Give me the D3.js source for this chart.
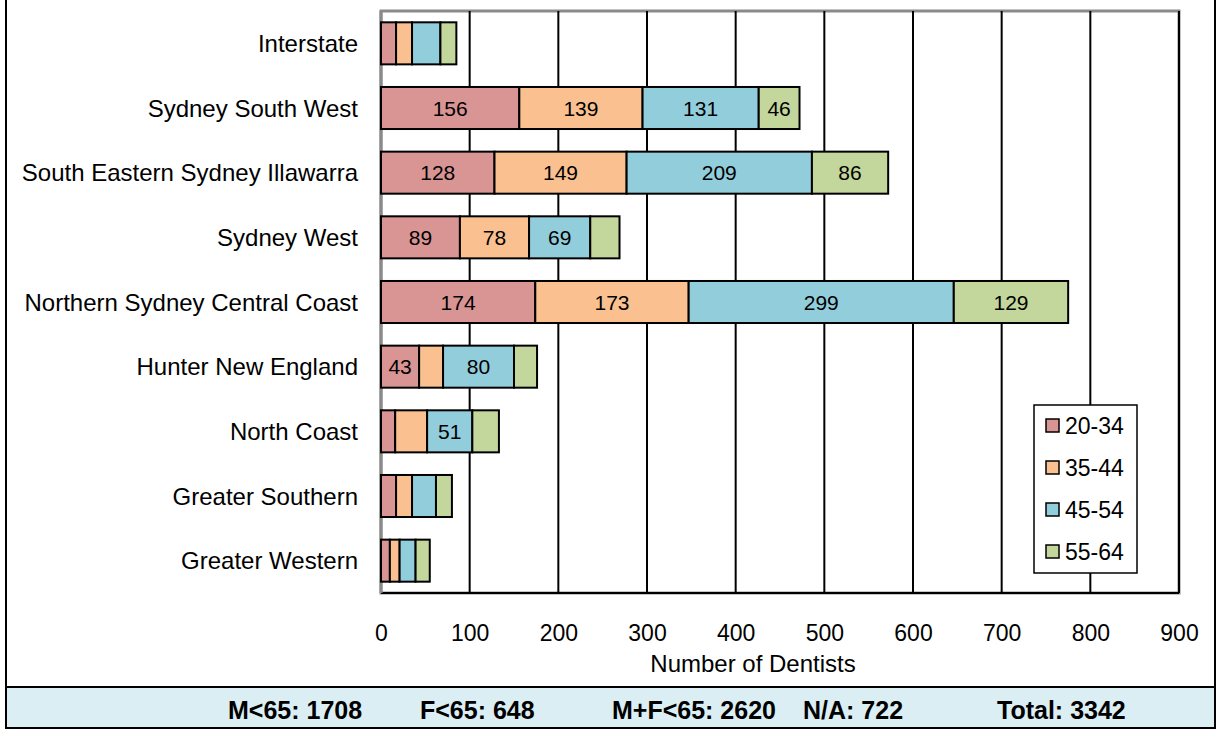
<!DOCTYPE html>
<html lang="en">
<head>
<meta charset="utf-8">
<script src="https://d3js.org/d3.v7.min.js"></script>
<style>
  body { margin: 0; background: #fff; }
  svg text { font-family: "Liberation Sans", Arial, sans-serif; fill: #000; }
</style>
</head>
<body>
<script>
// data
const categories = ["Interstate", "Sydney South West", "South Eastern Sydney Illawarra", "Sydney West",
  "Northern Sydney Central Coast", "Hunter New England", "North Coast", "Greater Southern", "Greater Western"];
const ageGroups = ["20-34", "35-44", "45-54", "55-64"];
const age20_34 = [17, 156, 128, 89, 174, 43, 16, 17, 10];
const age35_44 = [18, 139, 149, 78, 173, 27, 36, 18, 11];
const age45_54 = [32, 131, 209, 69, 299, 80, 51, 27, 18];
const age55_64 = [18, 46, 86, 33, 129, 26, 30, 18, 16];
const xTicks = [0, 100, 200, 300, 400, 500, 600, 700, 800, 900];
const footerLabels = ["M<65: 1708", "F<65: 648", "M+F<65: 2620", "N/A: 722", "Total: 3342"];

// layout
const W = 1217, H = 729;
const plot = { left: 381, right: 1179, top: 11, bottom: 593 };
const footerX = [228, 420, 612, 803, 997];
const colours = ["#d99594", "#fac08f", "#92cddc", "#c3d69b"];
const labelMin = 40;

const series = [age20_34, age35_44, age45_54, age55_64];
const rows = categories.map((c, i) => {
  const r = { cat: c };
  ageGroups.forEach((g, j) => r[g] = series[j][i]);
  return r;
});
const stacked = d3.stack().keys(ageGroups)(rows);

const svg = d3.select("body").append("svg")
  .attr("width", W).attr("height", H);

svg.append("rect").attr("width", W).attr("height", H).attr("fill", "#fff");

// outer frame
svg.append("line").attr("x1", 6).attr("x2", 6).attr("y1", 0).attr("y2", 728)
  .attr("stroke", "#000").attr("stroke-width", 2);
svg.append("line").attr("x1", 1215).attr("x2", 1215).attr("y1", 0).attr("y2", 728)
  .attr("stroke", "#000").attr("stroke-width", 2);

const x = d3.scaleLinear().domain([0, 900]).range([plot.left, plot.right]);
const y = d3.scaleBand().domain(categories).range([plot.top, plot.bottom])
  .paddingInner(0.35).paddingOuter(0.175);

// plot frame and grid
svg.append("rect")
  .attr("x", plot.left).attr("y", plot.top)
  .attr("width", plot.right - plot.left).attr("height", plot.bottom - plot.top)
  .attr("fill", "#fff").attr("stroke", "#8a8a8a").attr("stroke-width", 3);

svg.append("g").selectAll("line")
  .data(xTicks.filter(d => d > 0))
  .enter().append("line")
  .attr("x1", d => x(d)).attr("x2", d => x(d))
  .attr("y1", plot.top).attr("y2", plot.bottom)
  .attr("stroke", "#000").attr("stroke-width", 2);

svg.append("line")
  .attr("x1", plot.left).attr("x2", plot.right)
  .attr("y1", plot.bottom).attr("y2", plot.bottom)
  .attr("stroke", "#000").attr("stroke-width", 2);
svg.append("line")
  .attr("x1", plot.left).attr("x2", plot.left)
  .attr("y1", plot.top).attr("y2", plot.bottom)
  .attr("stroke", "#8a8a8a").attr("stroke-width", 3);

// bars
const layers = svg.append("g").selectAll("g")
  .data(stacked)
  .enter().append("g")
  .attr("fill", (d, i) => colours[i]);

layers.selectAll("rect")
  .data(d => d)
  .enter().append("rect")
  .attr("x", d => x(d[0]))
  .attr("y", d => y(d.data.cat))
  .attr("width", d => x(d[1]) - x(d[0]))
  .attr("height", y.bandwidth())
  .attr("stroke", "#000").attr("stroke-width", 2);

layers.selectAll("text")
  .data(d => d.filter(s => s[1] - s[0] >= labelMin))
  .enter().append("text")
  .attr("x", d => (x(d[0]) + x(d[1])) / 2)
  .attr("y", d => y(d.data.cat) + y.bandwidth() / 2)
  .attr("dy", "0.36em")
  .attr("text-anchor", "middle")
  .style("font-size", "21px")
  .text(d => d[1] - d[0]);

// category axis
const yAxis = svg.append("g")
  .attr("transform", `translate(${plot.left - 23},0)`)
  .call(d3.axisLeft(y).tickSize(0).tickPadding(0));
yAxis.select(".domain").remove();
yAxis.selectAll("text")
  .style("font-size", "24px")
  .style("font-family", "'Liberation Sans', Arial, sans-serif")
  .attr("dy", "0.36em");

// value axis
const xAxis = svg.append("g")
  .attr("transform", `translate(0,${plot.bottom})`)
  .call(d3.axisBottom(x).tickValues(xTicks).tickSize(0).tickPadding(0));
xAxis.select(".domain").remove();
xAxis.selectAll("text")
  .attr("y", 48).attr("dy", 0)
  .style("font-size", "23px")
  .style("font-family", "'Liberation Sans', Arial, sans-serif");

svg.append("text")
  .attr("x", 753).attr("y", 672)
  .attr("text-anchor", "middle")
  .style("font-size", "24px")
  .text("Number of Dentists");

// legend
const legend = svg.append("g");
legend.append("rect")
  .attr("x", 1034).attr("y", 405).attr("width", 103).attr("height", 168)
  .attr("fill", "#fff").attr("stroke", "#000").attr("stroke-width", 1.5);
const items = legend.selectAll("g")
  .data(ageGroups)
  .enter().append("g")
  .attr("transform", (d, i) => `translate(1046,${419 + i * 42})`);
items.append("rect")
  .attr("width", 13).attr("height", 13)
  .attr("fill", (d, i) => colours[i])
  .attr("stroke", "#000").attr("stroke-width", 1.5);
items.append("text")
  .attr("x", 19).attr("y", 15)
  .style("font-size", "23px")
  .text(d => d);

// footer band
svg.append("rect")
  .attr("x", 6).attr("y", 687).attr("width", 1209).attr("height", 41)
  .attr("fill", "#dbeef4").attr("stroke", "#000").attr("stroke-width", 2);
svg.append("g").selectAll("text")
  .data(footerLabels)
  .enter().append("text")
  .attr("x", (d, i) => footerX[i]).attr("y", 719)
  .style("font-size", "25px").style("font-weight", "bold")
  .text(d => d);
</script>
</body>
</html>
